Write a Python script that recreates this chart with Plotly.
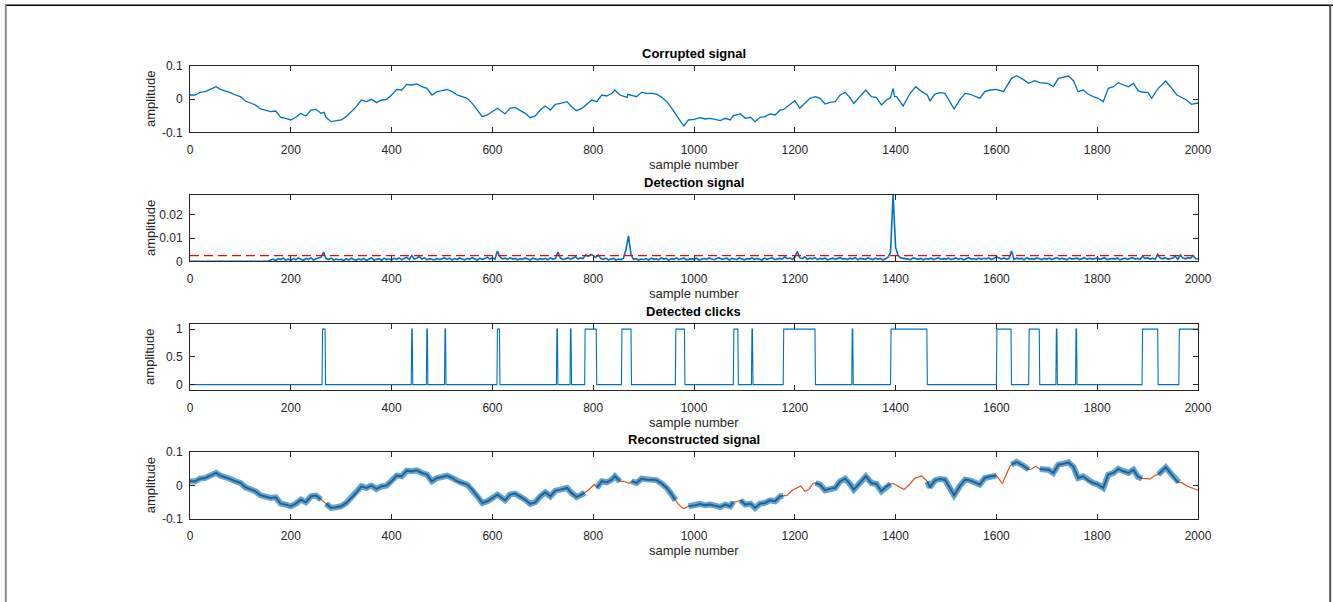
import plotly.graph_objects as go

W, H = 1333, 602

# ---- corrupted signal (sample index, amplitude) ----
corrupt_n = [0, 10, 20, 30, 40, 52, 60, 70, 80, 90, 100, 110, 120, 130, 140, 150, 160, 170, 180, 190,
             200, 210, 220, 230, 240, 250, 260, 266, 270, 280, 290, 300, 310, 320, 330, 340, 350, 360, 370, 380,
             390, 400, 410, 420, 430, 440, 450, 460, 470, 480, 490, 500, 510, 520, 530, 540, 550, 560, 570, 580,
             590, 600, 610, 625, 635, 645, 655, 665, 675, 685, 695, 705, 715, 725, 735, 748, 757, 767, 777, 783,
             797, 807, 817, 827, 837, 843, 853, 867, 869, 876, 886, 896, 906, 916, 926, 936, 946, 956, 963, 976,
             980, 989, 1000, 1012, 1022, 1032, 1042, 1052, 1062, 1072, 1078, 1092, 1102, 1112, 1121, 1131, 1141, 1151, 1161, 1171,
             1177, 1191, 1200, 1210, 1220, 1230, 1241, 1250, 1260, 1270, 1280, 1290, 1300, 1309, 1317, 1329, 1341, 1352, 1362, 1372,
             1382, 1390, 1395, 1398, 1402, 1415, 1428, 1440, 1452, 1463, 1468, 1478, 1488, 1498, 1508, 1516, 1528, 1538, 1547, 1557,
             1567, 1577, 1587, 1600, 1614, 1630, 1640, 1653, 1664, 1676, 1686, 1703, 1713, 1723, 1733, 1743, 1753, 1762, 1772, 1782,
             1792, 1802, 1812, 1822, 1832, 1842, 1852, 1862, 1872, 1881, 1889, 1901, 1908, 1921, 1928, 1936, 1948, 1958, 1962, 1977,
             1987, 1998, 2000]
corrupt_v = [0.012, 0.012, 0.020, 0.022, 0.029, 0.037, 0.029, 0.025, 0.019, 0.012, 0.007, -0.006, -0.011, -0.018, -0.030, -0.033, -0.038, -0.036, -0.055, -0.058,
             -0.063, -0.055, -0.043, -0.051, -0.033, -0.031, -0.043, -0.040, -0.055, -0.068, -0.066, -0.063, -0.053, -0.038, -0.023, -0.003, -0.008, -0.001, -0.011, -0.003,
             -0.001, 0.012, 0.029, 0.027, 0.044, 0.042, 0.045, 0.037, 0.032, 0.012, 0.022, 0.025, 0.029, 0.022, 0.012, 0.007, 0.002, -0.013, -0.033, -0.053,
             -0.048, -0.038, -0.028, -0.045, -0.028, -0.025, -0.033, -0.043, -0.056, -0.051, -0.033, -0.021, -0.033, -0.016, -0.013, -0.008, -0.023, -0.035, -0.028, -0.022,
             -0.003, -0.008, 0.012, 0.009, 0.017, 0.027, 0.012, 0.005, 0.014, 0.012, 0.007, 0.020, 0.017, 0.017, 0.015, 0.005, -0.008, -0.028, -0.045, -0.073,
             -0.081, -0.063, -0.061, -0.056, -0.060, -0.058, -0.061, -0.065, -0.058, -0.063, -0.050, -0.045, -0.058, -0.055, -0.068, -0.055, -0.053, -0.045, -0.048, -0.033,
             -0.032, -0.016, -0.005, -0.028, -0.013, 0.002, 0.007, 0.002, -0.015, -0.010, -0.008, 0.012, 0.020, 0.005, -0.013, 0.007, 0.027, 0.007, 0.004, -0.018,
             -0.003, 0.004, 0.032, 0.008, 0.007, -0.021, 0.015, 0.037, 0.022, 0.012, -0.006, 0.015, 0.019, 0.017, -0.008, -0.030, -0.001, 0.017, 0.015, 0.009,
             0.002, 0.022, 0.027, 0.029, 0.022, 0.062, 0.070, 0.059, 0.047, 0.055, 0.049, 0.047, 0.037, 0.062, 0.065, 0.069, 0.055, 0.022, 0.027, 0.015,
             0.007, 0.002, -0.008, 0.032, 0.037, 0.049, 0.042, 0.037, 0.047, 0.025, 0.021, 0.019, 0.002, 0.032, 0.042, 0.054, 0.032, 0.012, 0.009, -0.003,
             -0.016, -0.013, -0.012]

# ---- detection signal, one value every 5 samples, in units of 1e-4 ----
det_step = 5
det_vals_e4 = [
    0, 0, 0, 0, 0, 0, 0, 0, 0, 0, 0, 0, 0, 0, 0, 0, 0, 0, 0, 0,
    0, 0, 0, 0, 0, 0, 0, 0, 0, 0, 0, 0, 6, 10, 4, 12, 8, 14, 6, 10,
    5, 12, 7, 15, 9, 4, 13, 8, 16, 6, 11, 14, 18, 40, 12, 8, 14, 6, 10, 7,
    9, 4, 12, 6, 14, 8, 5, 11, 7, 13, 4, 10, 15, 6, 9, 12, 5, 14, 8, 11,
    6, 13, 9, 15, 7, 12, 18, 8, 25, 10, 14, 22, 9, 16, 7, 12, 10, 6, 13, 8,
    11, 16, 9, 14, 6, 12, 8, 15, 10, 7, 13, 9, 16, 11, 6, 14, 8, 12, 18, 10,
    15, 9, 45, 20, 11, 14, 8, 16, 10, 13, 7, 12, 9, 15, 11, 6, 14, 10, 8, 12,
    9, 13, 7, 15, 10, 12, 40, 14, 8, 11, 16, 9, 13, 20, 10, 15, 12, 28, 22, 30,
    25, 18, 28, 12, 9, 14, 7, 11, 13, 6, 10, 8, 14, 50, 110, 30, 9, 12, 6, 10,
    8, 12, 6, 14, 9, 11, 7, 15, 10, 13, 5, 12, 9, 16, 8, 11, 14, 7, 10, 12,
    9, 14, 6, 11, 13, 8, 15, 10, 7, 12, 16, 9, 11, 14, 6, 13, 10, 8, 15, 12,
    7, 12, 10, 15, 8, 13, 11, 6, 14, 9, 12, 16, 8, 11, 13, 10, 20, 12, 14, 9,
    18, 42, 15, 12, 20, 9, 14, 11, 16, 8, 13, 10, 15, 7, 12, 14, 9, 11, 16, 10,
    12, 8, 14, 10, 16, 7, 13, 11, 9, 15, 12, 8, 14, 10, 13, 6, 11, 18, 40, 286,
    60, 25, 15, 14, 10, 12, 8, 15, 11, 9, 13, 7, 12, 10, 14, 8, 11, 16, 9, 12,
    10, 14, 8, 12, 15, 9, 13, 7, 11, 16, 10, 12, 8, 14, 9, 13, 11, 15, 8, 12,
    20, 14, 10, 15, 9, 12, 45, 8, 14, 11, 13, 7, 16, 10, 12, 9, 15, 11, 8, 13,
    10, 14, 8, 12, 16, 9, 13, 11, 7, 15, 10, 12, 14, 8, 11, 16, 9, 13, 10, 12,
    14, 9, 12, 16, 8, 11, 13, 10, 15, 7, 12, 14, 9, 11, 16, 10, 13, 8, 22, 12,
    15, 10, 13, 9, 30, 14, 11, 16, 10, 12, 15, 22, 9, 28, 14, 11, 16, 13, 25, 12,
    10]
threshold = 0.0025

# ---- detected click intervals (first, last sample) ----
click_start = [263, 440, 470, 506, 610, 728, 755, 784, 857, 964, 1079, 1115, 1178, 1314, 1391, 1601, 1665, 1719, 1758, 1890, 1963]
click_end = [268, 441, 471, 507, 614, 729, 756, 806, 875, 981, 1087, 1116, 1240, 1315, 1462, 1629, 1685, 1720, 1759, 1920, 2000]

# ---- restored samples inside the click intervals ----
repair_n = [265, 790, 797, 803, 860, 866, 872, 968, 975, 980, 1083,
            1185, 1195, 1205, 1212, 1220, 1228, 1236,
            1395, 1405, 1417, 1428, 1438, 1452, 1460,
            1606, 1612, 1620, 1627, 1670, 1678,
            1895, 1905, 1915, 1968, 1978, 1990, 2000]
repair_v = [-0.047, -0.015, -0.005, 0.003, 0.012, 0.010, 0.006, -0.055, -0.066, -0.070, -0.050,
            -0.030, -0.015, -0.007, -0.002, -0.018, -0.012, 0.005,
            0.006, -0.003, -0.013, 0.003, 0.021, 0.028, 0.017,
            0.015, 0.005, 0.034, 0.058, 0.049, 0.057,
            0.020, 0.019, 0.030, 0.008, -0.002, -0.010, -0.015]

N = 2000
BLUE = "#0072BD"
ORANGE = "#D95319"
INK = "#262626"
FONT = "Liberation Sans"

# derived series
det_x = [i * det_step for i in range(len(det_vals_e4))]
det_y = [v * 1e-4 for v in det_vals_e4]

clicks_x = list(range(N + 1))
clicks_y = [1 if any(s <= n <= e for s, e in zip(click_start, click_end)) else 0 for n in clicks_x]

long_gaps = [(s, e) for s, e in zip(click_start, click_end) if e - s >= 5]


def in_gap(n):
    return any(s <= n <= e for s, e in long_gaps)


# undamaged part of the corrupted signal, broken where a click was removed
clean_x, clean_y = [], []
prev = None
for n, v in zip(corrupt_n, corrupt_v):
    if in_gap(n):
        continue
    if prev is not None and any(prev < s < n for s, e in long_gaps):
        clean_x.append(None)
        clean_y.append(None)
    clean_x.append(n)
    clean_y.append(v)
    prev = n

# reconstructed signal: kept samples plus restored ones
rec = [(n, v) for n, v in zip(corrupt_n, corrupt_v) if not in_gap(n)] + list(zip(repair_n, repair_v))
rec.sort()
rec_x = [p[0] for p in rec]
rec_y = [p[1] for p in rec]

# ---- layout geometry in pixels ----
X0, X1 = 190, 1198
tops = [65.7, 194.8, 323.6, 452.0]
AX_H = 66.6


def py(p):
    return 1 - p / H


def px(p):
    return p / W


fig = go.Figure()

fig.add_trace(go.Scatter(x=corrupt_n, y=corrupt_v, mode="lines",
                         line=dict(color=BLUE, width=1.3), xaxis="x", yaxis="y"))
fig.add_trace(go.Scatter(x=det_x, y=det_y, mode="lines",
                         line=dict(color=BLUE, width=1.6), xaxis="x2", yaxis="y2"))
fig.add_trace(go.Scatter(x=[0, N], y=[threshold, threshold], mode="lines",
                         line=dict(color="#FF0000", width=1.4, dash="9px,5px"), xaxis="x2", yaxis="y2"))
fig.add_trace(go.Scatter(x=clicks_x, y=clicks_y, mode="lines",
                         line=dict(color=BLUE, width=1.1), xaxis="x3", yaxis="y3"))
fig.add_trace(go.Scatter(x=rec_x, y=rec_y, mode="lines",
                         line=dict(color=ORANGE, width=1.2), xaxis="x4", yaxis="y4"))
fig.add_trace(go.Scatter(x=clean_x, y=clean_y, mode="lines",
                         line=dict(color="#5fa6d8", width=6), connectgaps=False,
                         xaxis="x4", yaxis="y4"))
fig.add_trace(go.Scatter(x=clean_x, y=clean_y, mode="lines",
                         line=dict(color="#2b5f8c", width=2), connectgaps=False,
                         xaxis="x4", yaxis="y4"))

axis_style = dict(showline=True, linecolor=INK, linewidth=1, mirror="ticks",
                  ticks="inside", ticklen=5, tickwidth=1, tickcolor=INK,
                  showgrid=False, zeroline=False, automargin=False,
                  tickfont=dict(family=FONT, size=12, color=INK))

yranges = [[-0.1, 0.1], [0, 0.0286], [-0.1, 1.1], [-0.1, 0.1]]
yticks = [([-0.1, 0, 0.1], ["-0.1", "0", "0.1"]),
          ([0, 0.01, 0.02], ["0", "0.01", "0.02"]),
          ([0, 0.5, 1], ["0", "0.5", "1"]),
          ([-0.1, 0, 0.1], ["-0.1", "0", "0.1"])]
titles = ["Corrupted signal", "Detection signal", "Detected clicks", "Reconstructed signal"]

layout = dict(width=W, height=H, margin=dict(l=0, r=0, t=0, b=0),
              paper_bgcolor="white", plot_bgcolor="white", showlegend=False)
annotations = []
for i in range(4):
    k = "" if i == 0 else str(i + 1)
    top = tops[i]
    bot = top + AX_H
    layout["xaxis" + k] = dict(axis_style, domain=[px(X0), px(X1)], range=[0, N],
                               tickvals=list(range(0, N + 1, 200)), anchor="y" + k,
                               ticklabelstandoff=6)
    layout["yaxis" + k] = dict(axis_style, domain=[py(bot), py(top)], range=yranges[i],
                               tickvals=yticks[i][0], ticktext=yticks[i][1], anchor="x" + k,
                               ticklabelstandoff=4)
    annotations.append(dict(text="<b>" + titles[i] + "</b>", x=px((X0 + X1) / 2), y=py(top - 12.5),
                            xref="paper", yref="paper", showarrow=False, xanchor="center", yanchor="middle",
                            font=dict(family=FONT, size=13, color="black")))
    annotations.append(dict(text="sample number", x=px((X0 + X1) / 2), y=py(bot + 32),
                            xref="paper", yref="paper", showarrow=False, xanchor="center", yanchor="middle",
                            font=dict(family=FONT, size=13, color=INK)))
    annotations.append(dict(text="amplitude", x=px(150), y=py((top + bot) / 2), textangle=-90,
                            xref="paper", yref="paper", showarrow=False, xanchor="center", yanchor="middle",
                            font=dict(family=FONT, size=13, color=INK)))
layout["annotations"] = annotations

# window frame around the figure
layout["shapes"] = [
    dict(type="line", xref="paper", yref="paper", x0=px(5), x1=1, y0=py(5.3), y1=py(5.3),
         line=dict(color="black", width=1.5), layer="above"),
    dict(type="line", xref="paper", yref="paper", x0=px(5.8), x1=px(5.8), y0=py(5), y1=0,
         line=dict(color="#8a8a8a", width=2), layer="above"),
    dict(type="line", xref="paper", yref="paper", x0=px(1330.2), x1=px(1330.2), y0=py(5), y1=0,
         line=dict(color="#555555", width=2), layer="above"),
]

fig.update_layout(**layout)
fig.write_html("out.html")
